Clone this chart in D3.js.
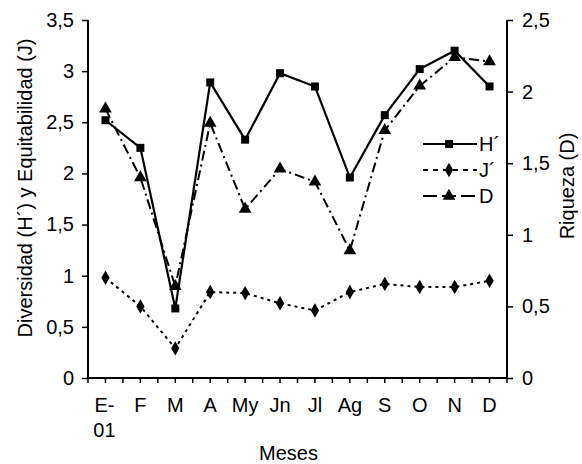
<!DOCTYPE html>
<html>
<head>
<meta charset="utf-8">
<script src="https://cdn.jsdelivr.net/npm/d3@7"></script>
<style>
  body { margin: 0; background: #fff; }
  text { font-family: "Liberation Sans", Arial, sans-serif; fill: #000; }
</style>
</head>
<body>
<div id="chart"></div>
<script>
// Data
var meses = ["E-\n01", "F", "M", "A", "My", "Jn", "Jl", "Ag", "S", "O", "N", "D"];
var hValues = [2.52, 2.25, 0.68, 2.89, 2.33, 2.98, 2.85, 1.96, 2.57, 3.02, 3.20, 2.85];
var jValues = [0.98, 0.70, 0.29, 0.84, 0.83, 0.73, 0.66, 0.84, 0.92, 0.89, 0.89, 0.95];
var dValues = [1.88, 1.40, 0.64, 1.78, 1.18, 1.46, 1.37, 0.89, 1.73, 2.04, 2.24, 2.21];
var leftTicks = [0, 0.5, 1, 1.5, 2, 2.5, 3, 3.5];
var rightTicks = [0, 0.5, 1, 1.5, 2, 2.5];

var width = 582,
    height = 464,
    margin = {top: 20, right: 75, bottom: 86, left: 88};

var fmt = function(d) { return String(d).replace(".", ","); };

var svg = d3.select("#chart").append("svg")
    .attr("width", width)
    .attr("height", height);

var x = d3.scaleBand()
    .domain(meses)
    .range([margin.left, width - margin.right]);

var yLeft = d3.scaleLinear()
    .domain([0, 3.5])
    .range([height - margin.bottom, margin.top]);

var yRight = d3.scaleLinear()
    .domain([0, 2.5])
    .range([height - margin.bottom, margin.top]);

var cx = function(d, i) { return x(meses[i]) + x.bandwidth() / 2; };

// x axis: ticks at band edges and centres
var xTicks = [];
meses.forEach(function(m) {
  xTicks.push(x(m));
  xTicks.push(x(m) + x.bandwidth() / 2);
});
xTicks.push(width - margin.right);

var y0 = height - margin.bottom;

var gx = svg.append("g").attr("class", "x-axis");
gx.selectAll("line.tick")
  .data(xTicks)
  .enter().append("line")
    .attr("x1", function(d) { return d; })
    .attr("x2", function(d) { return d; })
    .attr("y1", y0)
    .attr("y2", y0 + 5)
    .attr("stroke", "#000")
    .attr("stroke-width", 1.5);

gx.selectAll("text")
  .data(meses)
  .enter().append("text")
    .attr("x", function(d) { return x(d) + x.bandwidth() / 2; })
    .attr("y", y0 + 34)
    .attr("text-anchor", "middle")
    .style("font-size", "20px")
    .each(function(d) {
      var lines = d.split("\n");
      var t = d3.select(this);
      lines.forEach(function(l, k) {
        t.append("tspan")
          .attr("x", x(d) + x.bandwidth() / 2 - (lines.length > 1 ? 1 : 0))
          .attr("dy", k === 0 ? 0 : 25)
          .text(l);
      });
    });

gx.append("line")
  .attr("x1", margin.left).attr("x2", width - margin.right)
  .attr("y1", y0).attr("y2", y0)
  .attr("stroke", "#000").attr("stroke-width", 2);

// left axis
var gl = svg.append("g")
    .attr("transform", "translate(" + margin.left + ",0)")
    .call(d3.axisLeft(yLeft).tickValues(leftTicks).tickFormat(fmt).tickSize(6).tickPadding(8));

// right axis
var gr = svg.append("g")
    .attr("transform", "translate(" + (width - margin.right) + ",0)")
    .call(d3.axisRight(yRight).tickValues(rightTicks).tickFormat(fmt).tickSize(6).tickPadding(9));

[gl, gr].forEach(function(g) {
  g.select(".domain").attr("stroke-width", 2).attr("d", function() {
    return "M0," + margin.top + "V" + y0;
  });
  g.selectAll(".tick line").attr("stroke-width", 1.5);
  g.selectAll(".tick text").style("font-size", "20px").attr("font-family", null);
});

// axis titles
svg.append("text")
    .attr("transform", "translate(32,188) rotate(-90)")
    .attr("text-anchor", "middle")
    .style("font-size", "20px")
    .text("Diversidad (H´) y Equitabilidad (J)");

svg.append("text")
    .attr("transform", "translate(574,186) rotate(-90)")
    .attr("text-anchor", "middle")
    .style("font-size", "20px")
    .text("Riqueza (D)");

svg.append("text")
    .attr("x", 288.5)
    .attr("y", 460)
    .attr("text-anchor", "middle")
    .style("font-size", "20px")
    .text("Meses");

// series
var series = [
  {name: "H´", values: hValues, y: yLeft, dash: null, width: 2.2, marker: d3.symbolSquare, size: 64},
  {name: "J´", values: jValues, y: yLeft, dash: "3,4", width: 2, marker: d3.symbolDiamond, size: 60},
  {name: "D", values: dValues, y: yRight, dash: "10,4,2,4", width: 2, marker: d3.symbolTriangle, size: 70}
];

series.forEach(function(s) {
  var line = d3.line()
    .x(cx)
    .y(function(d) { return s.y(d); });

  svg.append("path")
    .datum(s.values)
    .attr("fill", "none")
    .attr("stroke", "#000")
    .attr("stroke-width", s.width)
    .attr("stroke-dasharray", s.dash)
    .attr("d", line);

  svg.append("g").selectAll("path")
    .data(s.values)
    .enter().append("path")
      .attr("transform", function(d, i) { return "translate(" + cx(d, i) + "," + s.y(d) + ")"; })
      .attr("d", d3.symbol().type(s.marker).size(s.size))
      .attr("fill", "#000");
});

// legend
var legendDash = ["", "5,5", "14,5"];
var legend = svg.append("g").attr("class", "legend");
series.forEach(function(s, i) {
  var ly = 144 + i * 26;
  legend.append("line")
    .attr("x1", 423).attr("x2", 477)
    .attr("y1", ly).attr("y2", ly)
    .attr("stroke", "#000")
    .attr("stroke-width", s.width)
    .attr("stroke-dasharray", legendDash[i] || null);
  legend.append("path")
    .attr("transform", "translate(449," + ly + ")")
    .attr("d", d3.symbol().type(s.marker).size(s.size))
    .attr("fill", "#000");
  legend.append("text")
    .attr("x", 479)
    .attr("y", ly + 7)
    .style("font-size", "20px")
    .text(s.name);
});
</script>
</body>
</html>
